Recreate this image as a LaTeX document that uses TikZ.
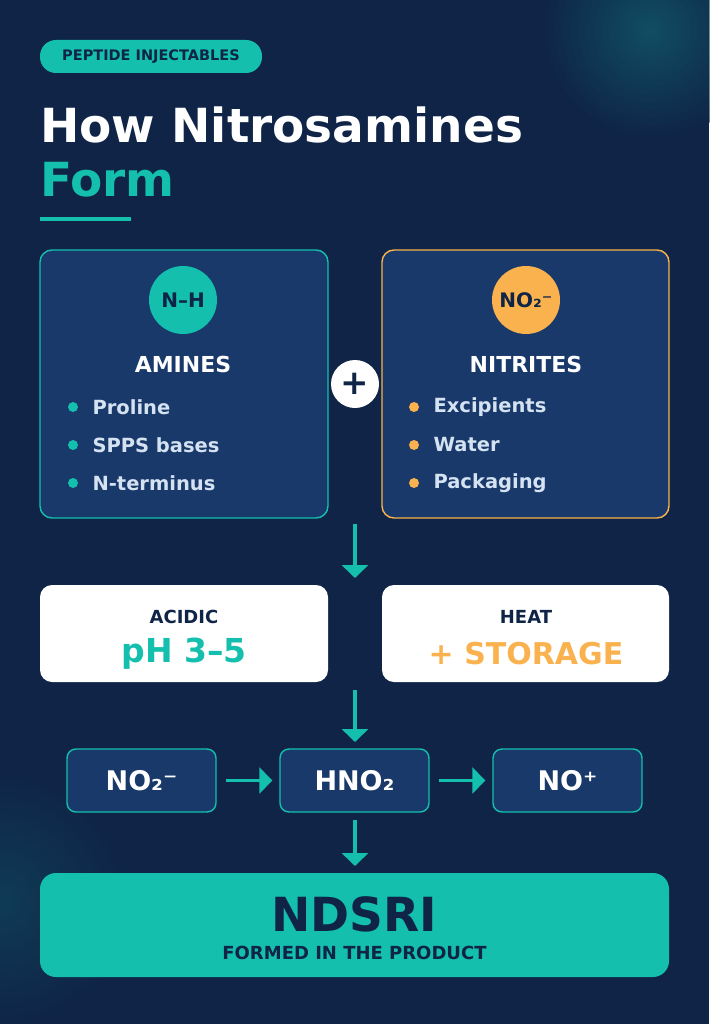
\documentclass[tikz,border=0pt]{standalone}
\usepackage{fontspec}
\setmainfont{DejaVu Sans}
\usetikzlibrary{arrows.meta}
\definecolor{bg}{HTML}{0F2447}
\definecolor{teal}{HTML}{14BFAE}
\definecolor{orng}{HTML}{F9B24E}
\definecolor{card}{HTML}{19396A}
\definecolor{dark}{HTML}{0F2447}
\definecolor{lt}{HTML}{D4E2F2}
\begin{document}
\begin{tikzpicture}[x=1pt,y=-1pt,
 card/.style={draw,line width=1.4pt,fill=card,rounded corners=12pt},
 wbox/.style={fill=white,rounded corners=12pt},
 sbox/.style={draw=teal,line width=1.4pt,fill=card,rounded corners=9pt,minimum width=149pt,minimum height=63pt,text=white,font=\bfseries\fontsize{27}{29}\selectfont},
 arr/.style={teal,line width=3.5pt,-{Triangle[length=13pt,width=26pt]}},
 bul/.style={font=\bfseries\fontsize{19.5}{21}\selectfont,text=lt,anchor=west},
 txt/.style={inner sep=0pt}]
\useasboundingbox (0,0) rectangle (709,1024);
\fill[bg] (0,0) rectangle (709,1024);
\shade[inner color=teal!45!bg,outer color=bg,opacity=0.6] (650,30) circle (110);
\shade[inner color=teal!30!bg,outer color=bg,opacity=0.5] (0,900) circle (130);
% pill
\node[txt,fill=teal,rounded corners=16pt,minimum width=222pt,minimum height=33pt,text=dark,font=\bfseries\fontsize{14.5}{16}\selectfont] (pill) at (151,56.5) {PEPTIDE INJECTABLES};
\node[txt,anchor=base west,text=white,font=\bfseries\fontsize{47}{50}\selectfont] (t1) at (40,143) {How Nitrosamines};
\node[txt,anchor=base west,text=teal,font=\bfseries\fontsize{47}{50}\selectfont] (t2) at (40,197) {Form};
\fill[teal] (40,217) rectangle (131,221);
% cards
\draw[card,draw=teal] (40,250) rectangle (328,518);
\draw[card,draw=orng] (382,250) rectangle (669,518);
\node[circle,fill=teal,minimum size=68pt,inner sep=0pt,text=dark,font=\bfseries\fontsize{20}{22}\selectfont] (c1) at (183,300) {N–H};
\node[circle,fill=orng,minimum size=68pt,inner sep=0pt,text=dark,font=\bfseries\fontsize{20}{22}\selectfont] (c2) at (526,300) {NO₂⁻};
\node[txt,text=white,font=\bfseries\fontsize{22}{24}\selectfont] (am) at (183,364) {AMINES};
\node[txt,text=white,font=\bfseries\fontsize{22}{24}\selectfont] (ni) at (526,364) {NITRITES};
\foreach \y/\t [count=\i] in {407/Proline,445/SPPS bases,483/N-terminus}{
 \fill[teal] (73,\y) circle (5);
 \node[bul] (la\i) at (89,\y) {\t};}
\foreach \y/\t [count=\i] in {407/Excipients,445/Water,483/Packaging}{
 \fill[orng] (414,\y) circle (5);
 \node[bul] (ra\i) at (430,\y) {\t};}
\node[circle,fill=white,minimum size=48pt,inner sep=0pt,text=dark,font=\bfseries\fontsize{34}{34}\selectfont] (plus) at (355,384) {+};
% arrow 1
\coordinate (a1s) at (355,524); \coordinate (a1e) at (355,578);
\draw[arr] (a1s) -- (a1e);
% white boxes
\fill[wbox] (40,585) rectangle (328,682);
\fill[wbox] (382,585) rectangle (669,682);
\node[txt,text=dark,font=\bfseries\fontsize{18}{20}\selectfont] (ac) at (184,617) {ACIDIC};
\node[txt,text=teal,font=\bfseries\fontsize{33}{35}\selectfont] (ph) at (184,654) {pH 3–5};
\node[txt,text=dark,font=\bfseries\fontsize{18}{20}\selectfont] (he) at (526,617) {HEAT};
\node[txt,text=orng,font=\bfseries\fontsize{30}{32}\selectfont] (st) at (526,654) {+ STORAGE};
\coordinate (a2s) at (355,690); \coordinate (a2e) at (355,742);
\draw[arr] (a2s) -- (a2e);
% chain
\node[sbox] (n1) at (141.5,780.5) {NO₂⁻};
\node[sbox] (n2) at (354.5,780.5) {HNO₂};
\node[sbox] (n3) at (567.5,780.5) {NO⁺};
\draw[arr] ([xshift=9pt]n1.east) -- ([xshift=-7pt]n2.west);
\draw[arr] ([xshift=9pt]n2.east) -- ([xshift=-7pt]n3.west);
\coordinate (a3s) at (355,820); \coordinate (a3e) at (355,866);
\draw[arr] (a3s) -- (a3e);
% final
\fill[teal,rounded corners=16pt] (40,873) rectangle (669,977);
\node[txt,text=dark,font=\bfseries\fontsize{47}{49}\selectfont] (nd) at (354.5,914) {NDSRI};
\node[txt,text=dark,font=\bfseries\fontsize{18}{20}\selectfont] (fp) at (354.5,953) {FORMED IN THE PRODUCT};
\end{tikzpicture}
\end{document}
